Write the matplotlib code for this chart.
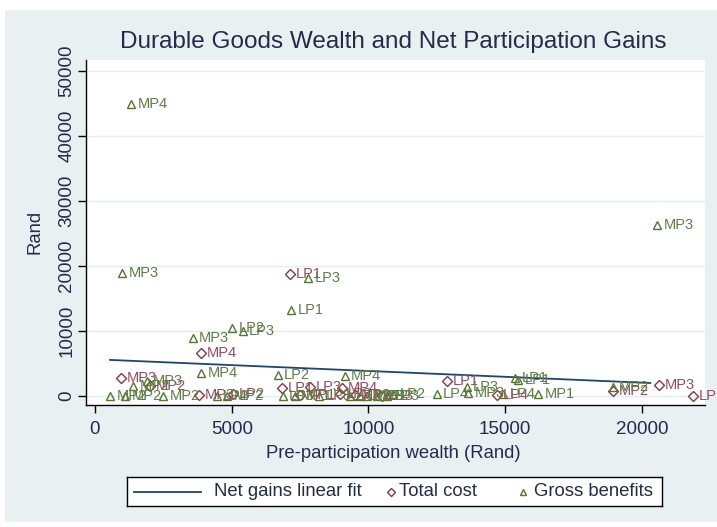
"""Durable goods wealth vs. participation costs / benefits, with net-gain fit."""
import matplotlib
matplotlib.use("Agg")
import matplotlib.pyplot as plt
from matplotlib.patches import Rectangle

plt.rcParams["font.family"] = ["Liberation Sans", "DejaVu Sans"]

NAVY = "#1a476f"
MAROON = "#90353b"
GREEN = "#55752f"
BG = "#e9f0f2"
INK = "#232c48"

# Total cost (hollow diamonds)
cost_x = [7130, 3880, 950, 2010, 6840, 7860, 9030, 12870, 18940, 20620, 21870,
          3800, 5050, 7500, 8970, 9500, 10500, 14700]
cost_y = [18770, 6620, 2770, 1540, 1230, 1390, 1230, 2310, 770, 1690, 0,
          150, 300, 100, 250, 150, 50, 150]
cost_lab = ["LP1", "MP4", "MP3", "MP2", "LP1", "LP3", "MP4", "LP1", "MP2", "MP3", "LP1",
            "MP3", "LP2", "MP1", "LP3", "MP2", "LP3", "LP4"]

# Gross benefits (hollow triangles)
ben_x = [1320, 990, 7790, 7170, 5010, 5410, 3580, 3880, 6690, 9140, 15360, 15470,
         13600, 18940, 20550, 16200, 14920, 13640, 12500, 10900, 1390, 1900,
         550, 1100, 2490, 4460, 4830, 6870, 7310, 8200, 9320, 9690, 9950, 10310, 10680]
ben_y = [44920, 18920, 18150, 13230, 10460, 10000, 8920, 3540, 3230, 3080, 2770, 2460,
         1390, 1390, 26310, 300, 300, 460, 300, 300, 1540, 2310,
         0, 0, 0, 50, 50, 0, 0, 50, 50, 0, 50, 0, 50]
ben_lab = ["MP4", "MP3", "LP3", "LP1", "LP2", "LP3", "MP3", "MP4", "LP2", "MP4", "LP1", "LP1",
           "LP3", "MP2", "MP3", "MP1", "LP4", "MP3", "LP4", "LP2", "MP2", "MP3",
           "MP2", "MP2", "MP2", "LP2", "MP2", "LP3", "MP1", "LP3", "LP3", "LP2", "MP3", "LP2", "LP3"]

# Net gains linear fit (end points of fitted line)
fit_x = [550, 20300]
fit_y = [5550, 2000]

x_ticks = [0, 5000, 10000, 15000, 20000]
y_ticks = [0, 10000, 20000, 30000, 40000, 50000]

W, H = 717, 527
fig = plt.figure(figsize=(W / 100, H / 100), dpi=100)
fig.patch.set_facecolor("white")
fig.patches.append(Rectangle((5 / W, 5 / H), 1, 1 - 15 / H, transform=fig.transFigure,
                             facecolor=BG, edgecolor="none", zorder=-10))

ax = fig.add_axes([86 / W, 1 - 405 / H, (705 - 86) / W, (405 - 60) / H])
ax.set_facecolor("white")
ax.set_xlim(-329, 22304)
ax.set_ylim(-1385, 51692)

for s in ("top", "right"):
    ax.spines[s].set_visible(False)
for s in ("left", "bottom"):
    ax.spines[s].set_color("black")
    ax.spines[s].set_linewidth(1.0)

ax.set_xticks(x_ticks)
ax.set_yticks(y_ticks)
ax.set_xticklabels([str(t) for t in x_ticks])
ax.set_yticklabels([str(t) for t in y_ticks], rotation=90, va="center")
ax.tick_params(axis="both", direction="out", length=5.8, width=1.0, colors="black",
               labelsize=13.5, labelcolor=INK)
ax.tick_params(axis="x", pad=6)
ax.tick_params(axis="y", pad=2)
for yt in y_ticks:
    ax.axhline(yt, color="#e2edf0", lw=1.0, zorder=0)

ax.plot(fit_x, fit_y, color=NAVY, lw=1.3, zorder=2)

ax.plot(cost_x, cost_y, ls="none", marker="D", ms=4.6, mfc="none", mec=MAROON, mew=1.0, zorder=3)
ax.plot(ben_x, ben_y, ls="none", marker="^", ms=5.8, mfc="none", mec=GREEN, mew=1.0, zorder=3)

for x, y, t in zip(cost_x, cost_y, cost_lab):
    ax.annotate(t, (x, y), xytext=(4, 0), textcoords="offset points", ha="left", va="center",
                fontsize=10.5, color="#9a4a62", annotation_clip=False, clip_on=False)
for x, y, t in zip(ben_x, ben_y, ben_lab):
    ax.annotate(t, (x, y), xytext=(4.5, 0), textcoords="offset points", ha="left", va="center",
                fontsize=10.5, color="#5e7e44", annotation_clip=False, clip_on=False)

fig.text(393 / W, 1 - 42 / H, "Durable Goods Wealth and Net Participation Gains",
         ha="center", va="center", fontsize=17.5, color=INK)
fig.text(393 / W, 1 - 453 / H, "Pre-participation wealth (Rand)",
         ha="center", va="center", fontsize=13.3, color=INK)
fig.text(35 / W, 1 - 232 / H, "Rand", ha="center", va="center", rotation=90,
         fontsize=13.3, color=INK)

# legend drawn in its own small axes, coordinates in pixels
lax = fig.add_axes([127 / W, 1 - 506 / H, 535 / W, 29 / H])
lax.set_xlim(0, 535)
lax.set_ylim(0, 29)
lax.set_facecolor("white")
lax.set_xticks([])
lax.set_yticks([])
for s in lax.spines.values():
    s.set_color("black")
    s.set_linewidth(1.0)
lax.plot([7, 74], [14.5, 14.5], color=NAVY, lw=1.3)
lax.text(87, 14.5, "Net gains linear fit", ha="left", va="center", fontsize=13.3, color=INK)
lax.plot([264], [14.5], ls="none", marker="D", ms=3.8, mfc="none", mec=MAROON, mew=1.0)
lax.text(272, 14.5, "Total cost", ha="left", va="center", fontsize=13.3, color=INK)
lax.plot([396], [14.5], ls="none", marker="^", ms=4.4, mfc="none", mec=GREEN, mew=1.0)
lax.text(407, 14.5, "Gross benefits", ha="left", va="center", fontsize=13.3, color=INK)

fig.savefig("out.png", dpi=100, facecolor=fig.get_facecolor())
